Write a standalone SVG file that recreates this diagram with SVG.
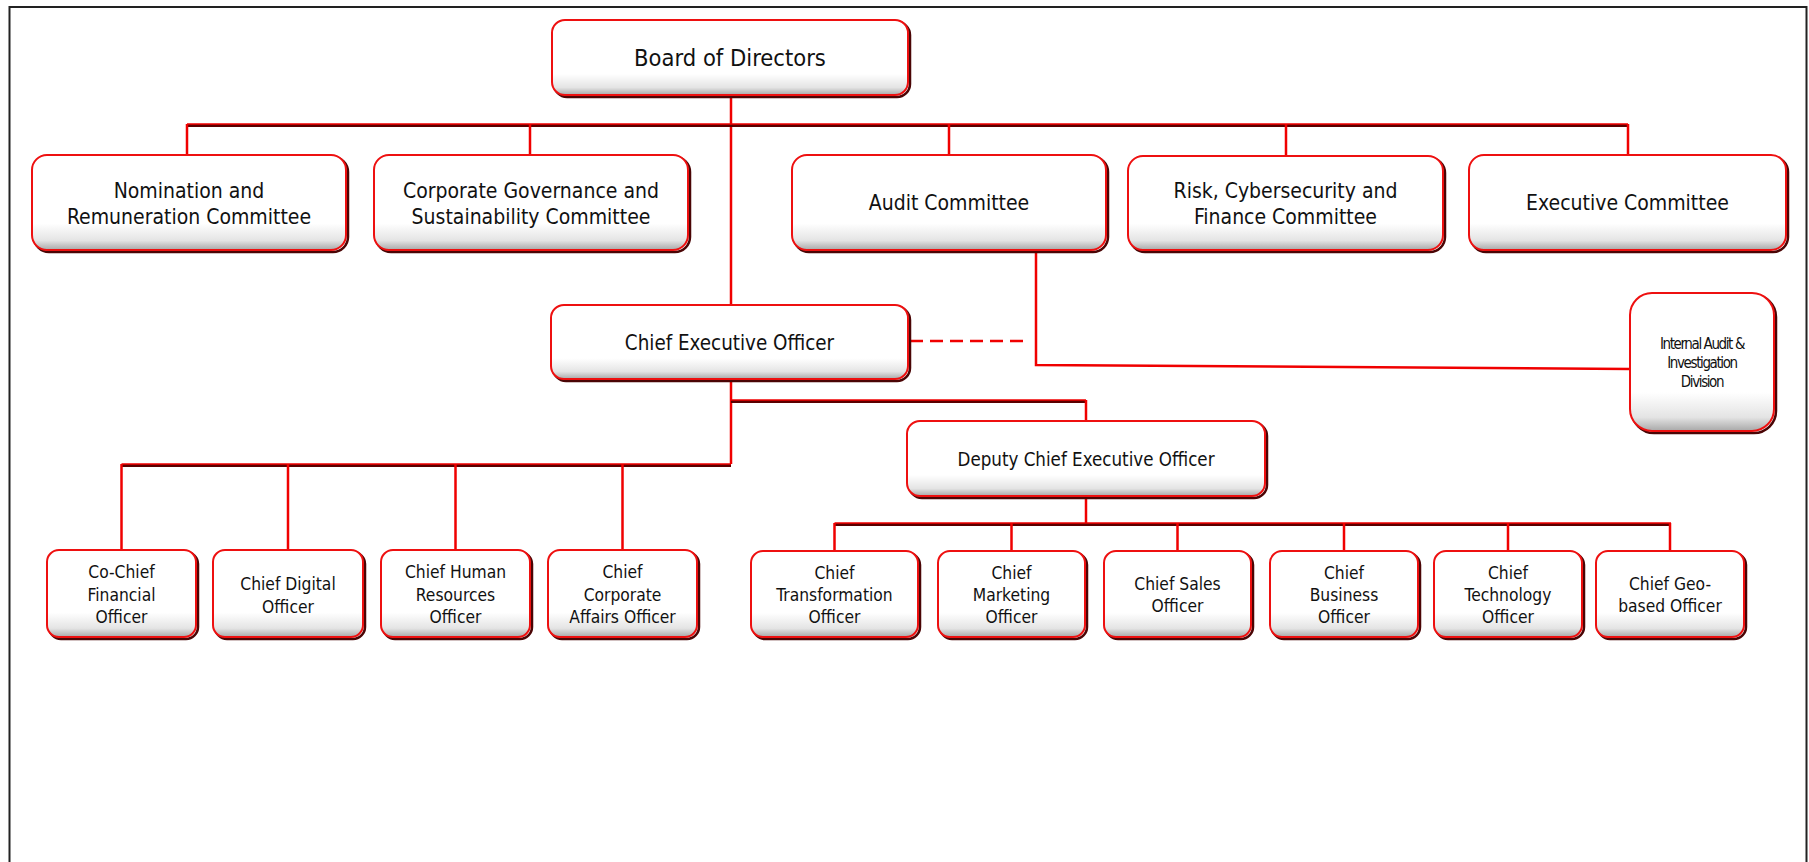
<svg xmlns="http://www.w3.org/2000/svg" width="1809" height="862" viewBox="0 0 1809 862">
<style>
.sh{fill:none;stroke:#4a0505;stroke-width:2.5}
.box{fill:url(#fillg);stroke:#ee1010;stroke-width:2}
.t{font-family:"DejaVu Sans Condensed","DejaVu Sans",sans-serif;font-stretch:condensed;fill:#111;text-anchor:middle}
.big{font-size:23.5px}
.cm{font-size:21px}
.ceo{font-size:20.4px}
.dep{font-size:18.6px}
.sm{font-size:17.3px}
.ia{font-size:15px;letter-spacing:-1.4px}
.v{stroke:#f00000;stroke-width:2.5;fill:none}
.hd{stroke:#5a0000;stroke-width:3;fill:none}
.hr{stroke:#f00000;stroke-width:1.6;fill:none}
.dash{stroke:#f00000;stroke-width:2.5;fill:none;stroke-dasharray:13 7}
</style>
<defs>
<linearGradient id="fillg" x1="0" y1="0" x2="0" y2="1">
<stop offset="0" stop-color="#ffffff"/>
<stop offset="0.72" stop-color="#ffffff"/>
<stop offset="0.9" stop-color="#e4e4e4"/>
<stop offset="1" stop-color="#a8a8a8"/>
</linearGradient>
</defs>
<rect x="0" y="0" width="1809" height="862" fill="#ffffff"/>
<path d="M9.5 880 V7 H1806.5 V880" fill="none" stroke="#222" stroke-width="2"/>

<g id="connectors">
<path class="v" d="M731 95 V305"/>
<path class="hd" d="M187 125.5 H1628"/>
<path class="hr" d="M187 124 H1628"/>
<path class="v" d="M187 124 V155 M530 124 V155 M949 124 V155 M1286 124 V156 M1628 124 V155"/>
<path class="v" d="M1036 250 V365 L1630 369"/>
<path class="dash" d="M910 341 H1029"/>
<path class="v" d="M731 379 V464"/>
<path class="hd" d="M731 401.5 H1086"/>
<path class="hr" d="M731 400 H1086"/>
<path class="v" d="M1086 400 V421"/>
<path class="hd" d="M121.5 465.5 H731"/>
<path class="hr" d="M121.5 464 H731"/>
<path class="v" d="M121.5 464 V550 M288 464 V550 M455.5 464 V550 M622.5 464 V550"/>
<path class="v" d="M1086 496 V523"/>
<path class="hd" d="M834.5 524.5 H1671"/>
<path class="hr" d="M834.5 523 H1671"/>
<path class="v" d="M834.5 523 V551 M1011.5 523 V551 M1177.5 523 V551 M1344 523 V551 M1508 523 V551 M1670 523 V551"/>
</g>

<g id="board">
<rect class="sh" x="554" y="22" width="356" height="75" rx="13"/>
<rect class="box" x="552" y="20" width="356" height="75" rx="13"/>
<text class="t big" x="730" y="66">Board of Directors</text>
</g>

<g id="nomination">
<rect class="sh" x="34" y="157" width="314" height="95" rx="15"/>
<rect class="box" x="32" y="155" width="314" height="95" rx="15"/>
<text class="t cm" x="189" y="198">Nomination and</text>
<text class="t cm" x="189" y="224">Remuneration Committee</text>
</g>

<g id="corporate-governance">
<rect class="sh" x="376" y="157" width="314" height="95" rx="15"/>
<rect class="box" x="374" y="155" width="314" height="95" rx="15"/>
<text class="t cm" x="531" y="198">Corporate Governance and</text>
<text class="t cm" x="531" y="224">Sustainability Committee</text>
</g>

<g id="audit">
<rect class="sh" x="794" y="157" width="314" height="95" rx="15"/>
<rect class="box" x="792" y="155" width="314" height="95" rx="15"/>
<text class="t cm" x="949" y="210">Audit Committee</text>
</g>

<g id="risk">
<rect class="sh" x="1130" y="158" width="315" height="94" rx="15"/>
<rect class="box" x="1128" y="156" width="315" height="94" rx="15"/>
<text class="t cm" x="1285.5" y="198">Risk, Cybersecurity and</text>
<text class="t cm" x="1285.5" y="224">Finance Committee</text>
</g>

<g id="executive">
<rect class="sh" x="1471" y="157" width="317" height="95" rx="15"/>
<rect class="box" x="1469" y="155" width="317" height="95" rx="15"/>
<text class="t cm" x="1627.5" y="210">Executive Committee</text>
</g>

<g id="ceo">
<rect class="sh" x="553" y="307" width="357" height="74" rx="13"/>
<rect class="box" x="551" y="305" width="357" height="74" rx="13"/>
<text class="t ceo" x="729.5" y="350">Chief Executive Officer</text>
</g>

<g id="internal-audit">
<rect class="sh" x="1632" y="295" width="144" height="138" rx="22"/>
<rect class="box" x="1630" y="293" width="144" height="138" rx="22"/>
<text class="t ia" x="1702" y="349">Internal Audit &amp;</text>
<text class="t ia" x="1702" y="368">Investigation</text>
<text class="t ia" x="1702" y="387">Division</text>
</g>

<g id="deputy-ceo">
<rect class="sh" x="909" y="423" width="358" height="75" rx="13"/>
<rect class="box" x="907" y="421" width="358" height="75" rx="13"/>
<text class="t dep" x="1086" y="466">Deputy Chief Executive Officer</text>
</g>

<g id="co-cfo">
<rect class="sh" x="49" y="552" width="149" height="87" rx="12"/>
<rect class="box" x="47" y="550" width="149" height="87" rx="12"/>
<text class="t sm" x="121.5" y="578">Co-Chief</text>
<text class="t sm" x="121.5" y="601">Financial</text>
<text class="t sm" x="121.5" y="623">Officer</text>
</g>

<g id="cdo">
<rect class="sh" x="215" y="552" width="150" height="87" rx="12"/>
<rect class="box" x="213" y="550" width="150" height="87" rx="12"/>
<text class="t sm" x="288" y="590">Chief Digital</text>
<text class="t sm" x="288" y="612.5">Officer</text>
</g>

<g id="chro">
<rect class="sh" x="383" y="552" width="149" height="87" rx="12"/>
<rect class="box" x="381" y="550" width="149" height="87" rx="12"/>
<text class="t sm" x="455.5" y="578">Chief Human</text>
<text class="t sm" x="455.5" y="601">Resources</text>
<text class="t sm" x="455.5" y="623">Officer</text>
</g>

<g id="ccao">
<rect class="sh" x="550" y="552" width="149" height="87" rx="12"/>
<rect class="box" x="548" y="550" width="149" height="87" rx="12"/>
<text class="t sm" x="622.5" y="578">Chief</text>
<text class="t sm" x="622.5" y="601">Corporate</text>
<text class="t sm" x="622.5" y="623">Affairs Officer</text>
</g>

<g id="cto-transformation">
<rect class="sh" x="753" y="553" width="167" height="86" rx="12"/>
<rect class="box" x="751" y="551" width="167" height="86" rx="12"/>
<text class="t sm" x="834.5" y="579">Chief</text>
<text class="t sm" x="834.5" y="601">Transformation</text>
<text class="t sm" x="834.5" y="623">Officer</text>
</g>

<g id="cmo">
<rect class="sh" x="940" y="553" width="147" height="86" rx="12"/>
<rect class="box" x="938" y="551" width="147" height="86" rx="12"/>
<text class="t sm" x="1011.5" y="579">Chief</text>
<text class="t sm" x="1011.5" y="601">Marketing</text>
<text class="t sm" x="1011.5" y="623">Officer</text>
</g>

<g id="cso">
<rect class="sh" x="1106" y="553" width="147" height="86" rx="12"/>
<rect class="box" x="1104" y="551" width="147" height="86" rx="12"/>
<text class="t sm" x="1177.5" y="590">Chief Sales</text>
<text class="t sm" x="1177.5" y="612">Officer</text>
</g>

<g id="cbo">
<rect class="sh" x="1272" y="553" width="148" height="86" rx="12"/>
<rect class="box" x="1270" y="551" width="148" height="86" rx="12"/>
<text class="t sm" x="1344" y="579">Chief</text>
<text class="t sm" x="1344" y="601">Business</text>
<text class="t sm" x="1344" y="623">Officer</text>
</g>

<g id="cto">
<rect class="sh" x="1436" y="553" width="148" height="86" rx="12"/>
<rect class="box" x="1434" y="551" width="148" height="86" rx="12"/>
<text class="t sm" x="1508" y="579">Chief</text>
<text class="t sm" x="1508" y="601">Technology</text>
<text class="t sm" x="1508" y="623">Officer</text>
</g>

<g id="cgo">
<rect class="sh" x="1598" y="553" width="148" height="86" rx="12"/>
<rect class="box" x="1596" y="551" width="148" height="86" rx="12"/>
<text class="t sm" x="1670" y="590">Chief Geo-</text>
<text class="t sm" x="1670" y="612">based Officer</text>
</g>
</svg>
